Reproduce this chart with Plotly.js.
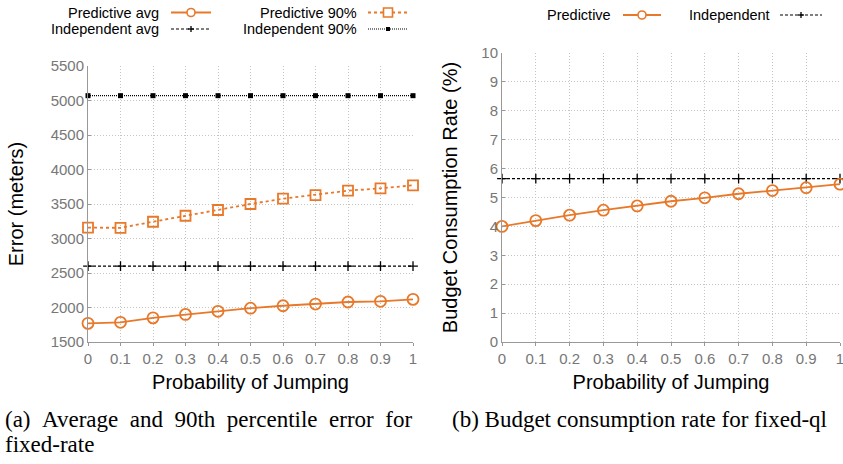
<!DOCTYPE html>
<html><head><meta charset="utf-8">
<script src="https://cdn.plot.ly/plotly-3.0.1.min.js"></script>
<style>html,body{margin:0;padding:0;background:#fff}#chart{width:843px;height:464px}</style>
</head><body><div id="chart"></div>
<script>
// ---- data ----
const probJump = [0, 0.1, 0.2, 0.3, 0.4, 0.5, 0.6, 0.7, 0.8, 0.9, 1];
const predictiveAvg = [1770, 1785, 1850, 1900, 1945, 1990, 2025, 2050, 2080, 2090, 2118];
const predictive90 = [3157, 3155, 3243, 3330, 3413, 3500, 3577, 3630, 3693, 3727, 3771];
const independentAvg = [2600, 2600, 2600, 2600, 2600, 2600, 2600, 2600, 2600, 2600, 2600];
const independent90 = [5070, 5070, 5070, 5070, 5070, 5070, 5070, 5070, 5070, 5070, 5070];
const budgetPredictive = [4.0, 4.2, 4.39, 4.56, 4.71, 4.87, 4.99, 5.13, 5.24, 5.34, 5.46];
const budgetIndependent = [5.65, 5.65, 5.65, 5.65, 5.65, 5.65, 5.65, 5.65, 5.65, 5.65, 5.65];
const xTitle = 'Probability of Jumping';
const yTitleA = 'Error (meters)';
const yTitleB = 'Budget Consumption Rate (%)';
const captionA1 = '(a) Average and 90th percentile error for';
const captionA2 = 'fixed-rate';
const captionB = '(b) Budget consumption rate for fixed-ql';

const W = 843, H = 464;
const ORANGE = '#e8782a';
const px = x => x / W, py = y => 1 - y / H;
const SANS = 'Liberation Sans, Arial, sans-serif';
const SERIF = 'Liberation Serif, Times New Roman, serif';

const traces = [
  {x: probJump, y: independent90, xaxis: 'x', yaxis: 'y', mode: 'lines+markers', cliponaxis: false,
   line: {color: '#000', width: 1.3, dash: '1px,1px'}, marker: {symbol: 'square', size: 5, color: '#000'}},
  {x: probJump, y: independentAvg, xaxis: 'x', yaxis: 'y', mode: 'lines+markers', cliponaxis: false,
   line: {color: '#000', width: 1.3, dash: '3px,2px'}, marker: {symbol: 'cross-thin-open', size: 7, line: {color: '#000', width: 1.3}}},
  {x: probJump, y: predictive90, xaxis: 'x', yaxis: 'y', mode: 'lines+markers', cliponaxis: false,
   line: {color: ORANGE, width: 1.8, dash: 'dot'}, marker: {symbol: 'square-open', size: 10, color: ORANGE, line: {color: ORANGE, width: 1.8}}},
  {x: probJump, y: predictiveAvg, xaxis: 'x', yaxis: 'y', mode: 'lines+markers', cliponaxis: false,
   line: {color: ORANGE, width: 1.8}, marker: {symbol: 'circle-open', size: 11, color: ORANGE, line: {color: ORANGE, width: 1.8}}},
  {x: probJump, y: budgetIndependent, xaxis: 'x2', yaxis: 'y2', mode: 'lines+markers', cliponaxis: false,
   line: {color: '#000', width: 1.3, dash: '3px,2px'}, marker: {symbol: 'cross-thin-open', size: 7, line: {color: '#000', width: 1.3}}},
  {x: probJump, y: budgetPredictive, xaxis: 'x2', yaxis: 'y2', mode: 'lines+markers', cliponaxis: false,
   line: {color: ORANGE, width: 1.8}, marker: {symbol: 'circle-open', size: 11, color: ORANGE, line: {color: ORANGE, width: 1.8}}}
];

const axisCommon = {
  showgrid: true, gridcolor: '#c4c4c4', griddash: '1px,2px', gridwidth: 1,
  showline: true, linecolor: '#999', linewidth: 1, zeroline: false, ticklabeloverflow: 'allow',
  tickfont: {family: SANS, size: 15, color: '#777'}, mirror: false
};

const xax = (dom) => Object.assign({}, axisCommon, {
  domain: dom, range: [0, 1], dtick: 0.1, tick0: 0, ticks: 'outside', ticklen: 3, tickcolor: '#999',
  title: {text: xTitle, font: {family: SANS, size: 20, color: '#000'}, standoff: 8}
});

const layout = {
  width: W, height: H, margin: {l: 0, r: 0, t: 0, b: 0},
  paper_bgcolor: '#fff', plot_bgcolor: '#fff', showlegend: false,
  xaxis: Object.assign(xax([px(88), px(413)]), {anchor: 'y'}),
  xaxis2: Object.assign(xax([px(502), px(840)]), {anchor: 'y2'}),
  yaxis: Object.assign({}, axisCommon, {domain: [py(342), py(66)], range: [1500, 5500], dtick: 500, anchor: 'x',
    ticks: 'inside', ticklen: 3, tickcolor: '#999',
    title: {text: yTitleA, font: {family: SANS, size: 20, color: '#000'}, standoff: 21}}),
  yaxis2: Object.assign({}, axisCommon, {domain: [py(342), py(53)], range: [0, 10], dtick: 1, anchor: 'x2',
    ticks: 'inside', ticklen: 3, tickcolor: '#999',
    title: {text: yTitleB, font: {family: SANS, size: 20, color: '#000'}, standoff: 18}}),
  annotations: [], shapes: []
};

// captions
const HAIR = '\u200A';
layout.annotations.push(
  {text: captionA1.split(' ').join(' ' + HAIR + HAIR + HAIR), x: px(3), y: py(419), xref: 'paper', yref: 'paper', xanchor: 'left', yanchor: 'middle', showarrow: false, font: {family: SERIF, size: 23, color: '#000'}},
  {text: captionA2, x: px(3), y: py(444), xref: 'paper', yref: 'paper', xanchor: 'left', yanchor: 'middle', showarrow: false, font: {family: SERIF, size: 23, color: '#000'}},
  {text: captionB, x: px(450), y: py(419), xref: 'paper', yref: 'paper', xanchor: 'left', yanchor: 'middle', showarrow: false, font: {family: SERIF, size: 23, color: '#000'}}
);

// custom legends (text left, sample right)
function legendItem(label, textRight, yc, x0, x1, lineStyle, marker) {
  layout.annotations.push({text: label, x: px(textRight), y: py(yc), xref: 'paper', yref: 'paper',
    xanchor: 'right', yanchor: 'middle', showarrow: false, borderpad: 0, font: {family: SANS, size: 14.5, color: '#000'}});
  layout.shapes.push({type: 'line', xref: 'paper', yref: 'paper', x0: px(x0), x1: px(x1), y0: py(yc), y1: py(yc), line: lineStyle});
  const xc = (x0 + x1) / 2;
  const base = {xref: 'paper', yref: 'paper', xsizemode: 'pixel', ysizemode: 'pixel', xanchor: px(xc), yanchor: py(yc)};
  const r = marker.size / 2;
  if (marker.kind === 'circle' || marker.kind === 'rect' || marker.kind === 'fillrect') {
    layout.shapes.push(Object.assign({}, base, {type: marker.kind === 'circle' ? 'circle' : 'rect',
      x0: -r, x1: r, y0: -r, y1: r, fillcolor: marker.kind === 'fillrect' ? marker.color : '#fff',
      line: {color: marker.color, width: marker.kind === 'fillrect' ? 0 : 1.6}}));
  } else if (marker.kind === 'plus') {
    layout.shapes.push(Object.assign({}, base, {type: 'line', x0: -r, x1: r, y0: 0, y1: 0, line: {color: '#000', width: 1.3}}));
    layout.shapes.push(Object.assign({}, base, {type: 'line', x0: 0, x1: 0, y0: -r, y1: r, line: {color: '#000', width: 1.3}}));
  }
}
legendItem('Predictive avg', 160, 12.5, 171, 211, {color: ORANGE, width: 1.8}, {kind: 'circle', size: 8, color: ORANGE});
legendItem('Independent avg', 160, 29, 171, 211, {color: '#000', width: 1.2, dash: '3px,2px'}, {kind: 'plus', size: 6});
legendItem('Predictive 90%', 358, 12.5, 368, 408, {color: ORANGE, width: 1.8, dash: 'dot'}, {kind: 'rect', size: 9, color: ORANGE});
legendItem('Independent 90%', 358, 29, 368, 408, {color: '#000', width: 1.2, dash: '1px,1px'}, {kind: 'fillrect', size: 4, color: '#000'});
legendItem('Predictive', 612, 15, 623, 661, {color: ORANGE, width: 1.8}, {kind: 'circle', size: 8, color: ORANGE});
legendItem('Independent', 771, 15, 780, 822, {color: '#000', width: 1.2, dash: '3px,2px'}, {kind: 'plus', size: 6});

Plotly.newPlot('chart', traces, layout, {displayModeBar: false, staticPlot: true});
</script></body></html>
